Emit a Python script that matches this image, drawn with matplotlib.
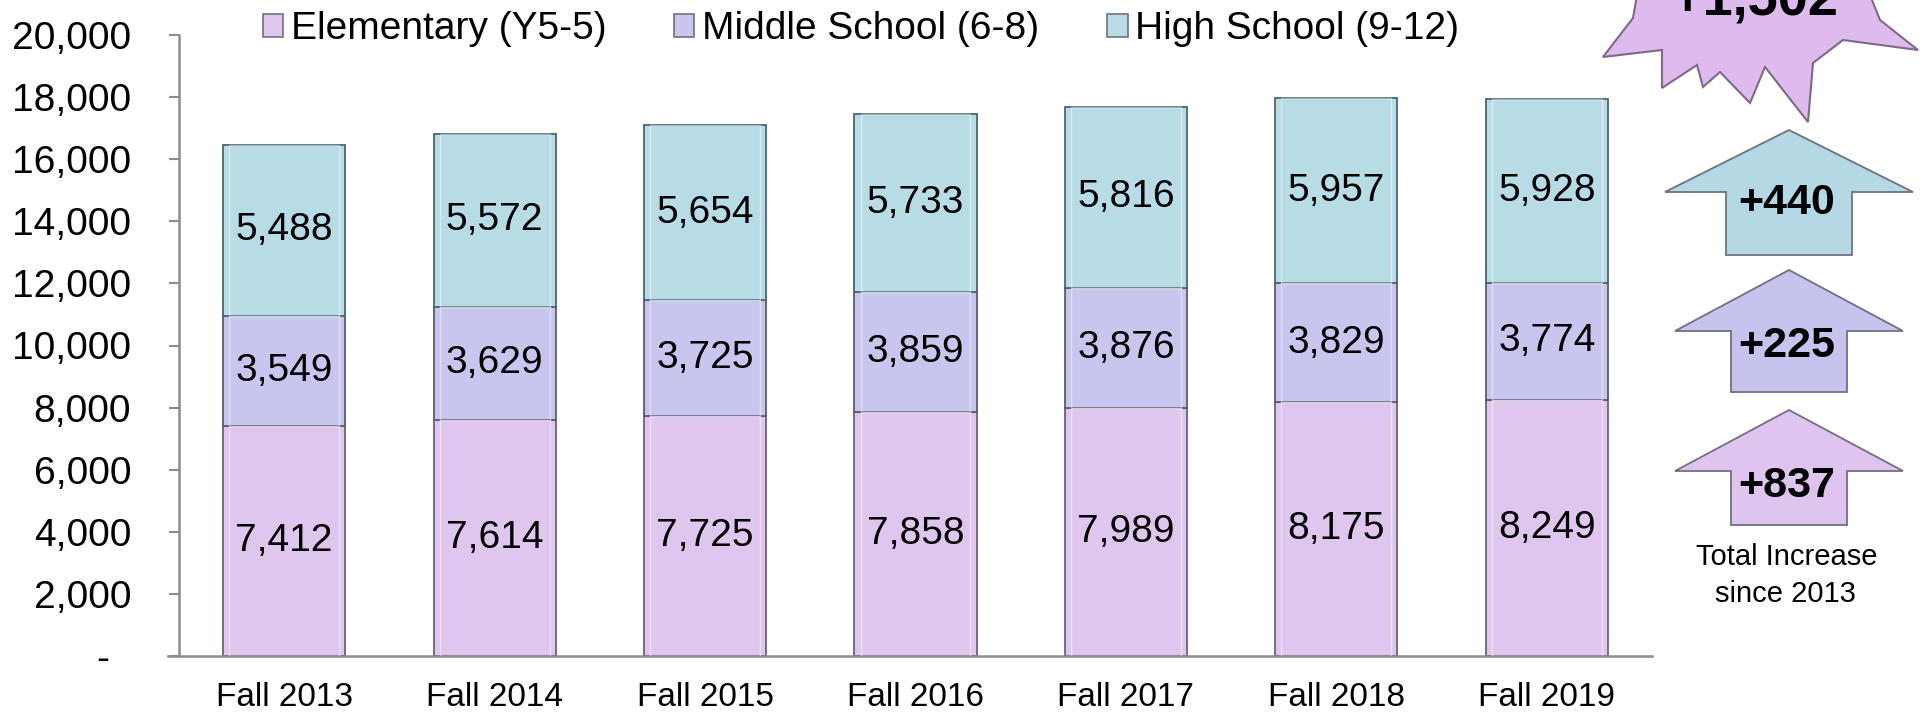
import matplotlib
matplotlib.use('Agg')
import matplotlib.pyplot as plt
import numpy as np
from matplotlib.patches import Polygon, Patch

plt.rcParams['font.family'] = ['Liberation Sans', 'DejaVu Sans']

# dados
anos = ['Fall 2013', 'Fall 2014', 'Fall 2015', 'Fall 2016', 'Fall 2017', 'Fall 2018', 'Fall 2019']
elementary = [7412, 7614, 7725, 7858, 7989, 8175, 8249]
middle = [3549, 3629, 3725, 3859, 3876, 3829, 3774]
high = [5488, 5572, 5654, 5733, 5816, 5957, 5928]
nomes = ['Elementary (Y5-5)', 'Middle School (6-8)', 'High School (9-12)']

cores = ['#DFC6EE', '#C8C6EE', '#B8DCE6']
bordas = ['#6E6278', '#5C5A74', '#4C6670']

W, H = 1923, 713
fig = plt.figure(figsize=(W / 100, H / 100), dpi=100)
ax = fig.add_axes([179 / W, 1 - 656 / H, (1652 - 179) / W, (656 - 35) / H])

x = np.arange(len(anos))
largura = 0.58
base = np.zeros(len(anos))
for serie, cor, borda in zip([elementary, middle, high], cores, bordas):
    vals = np.array(serie)
    ax.bar(x, vals, largura, bottom=base, color=cor, edgecolor=borda, linewidth=1.3, zorder=2)
    # leve efeito de relevo
    ax.bar(x, vals, largura * 0.9, bottom=base, color='none', edgecolor='white',
           linewidth=1.0, alpha=0.45, zorder=3)
    for xi, b, v in zip(x, base, vals):
        ax.text(xi, b + v / 2, f'{v:,}', ha='center', va='center', fontsize=28, zorder=4)
    base = base + vals

ax.set_xlim(-0.5, 6.5)
ax.set_ylim(0, 20000)
ax.set_yticks(np.arange(0, 20001, 2000))
ax.set_yticklabels(['-  ' if v == 0 else f'{v:,}' for v in range(0, 20001, 2000)])
ax.set_xticks(x)
ax.set_xticklabels(anos)

for s in ['top', 'right']:
    ax.spines[s].set_visible(False)
for s in ['left', 'bottom']:
    ax.spines[s].set_color('#8C8C8C')
    ax.spines[s].set_linewidth(1.8)
ax.spines['bottom'].set_bounds(-0.552, 6.5)

ax.tick_params(axis='y', direction='out', length=7.5, width=1.5, color='#8C8C8C',
               labelsize=28, pad=27)
ax.tick_params(axis='x', length=0, labelsize=24, pad=19)

# legenda
handles = [Patch(facecolor=c, edgecolor='#707080', linewidth=1.2) for c in cores]
fig.legend(handles, nomes, loc='center', bbox_to_anchor=(861 / W, 1 - 29 / H), ncol=3,
           frameon=False, fontsize=28, handlelength=0.52, handleheight=0.52,
           handletextpad=0.2, columnspacing=1.75, borderpad=0)


def fx(px):
    return px / W


def fy(py):
    return 1 - py / H


def seta(cx, topo, base_y, fundo, meia_larg, meia_haste, cor, texto, ty):
    pts = [(cx, topo), (cx + meia_larg, base_y), (cx + meia_haste, base_y),
           (cx + meia_haste, fundo), (cx - meia_haste, fundo), (cx - meia_haste, base_y),
           (cx - meia_larg, base_y)]
    fig.patches.append(Polygon([(fx(a), fy(b)) for a, b in pts], closed=True,
                               facecolor=cor, edgecolor='#707080', linewidth=1.3,
                               transform=fig.transFigure))
    fig.text(fx(cx - 2), fy(ty), texto, ha='center', va='center', fontsize=31,
             fontweight='bold')


inc_high = high[-1] - high[0]
inc_mid = middle[-1] - middle[0]
inc_elem = elementary[-1] - elementary[0]
total = inc_high + inc_mid + inc_elem

seta(1789, 130, 192, 255, 124, 63, '#B5D9E4', f'+{inc_high:,}', 203)
seta(1789, 270, 331, 392, 114, 58, '#C6C4EE', f'+{inc_mid:,}', 346)
seta(1789, 410, 471, 525, 114, 58, '#DEC4EF', f'+{inc_elem:,}', 486)

fig.text(fx(1787), fy(557), 'Total Increase', ha='center', va='center', fontsize=21)
fig.text(fx(1785), fy(594), 'since 2013', ha='center', va='center', fontsize=21)

# explosão no canto superior direito
estrela = [(1637, -5), (1633, 18), (1603, 57), (1662, 50), (1662, 88), (1697, 65),
           (1703, 87), (1720, 72), (1750, 103), (1765, 67), (1808, 122), (1813, 63),
           (1843, 40), (1918, 50), (1880, 20), (1870, -5)]
fig.patches.append(Polygon([(fx(a), fy(b)) for a, b in estrela], closed=True,
                           facecolor='#DDBBEE', edgecolor='#806888', linewidth=1.5,
                           transform=fig.transFigure))
fig.text(fx(1755), fy(15), f'+{total:,}', ha='center', va='baseline', fontsize=39,
         fontweight='bold')

plt.savefig('out.png', dpi=100)
